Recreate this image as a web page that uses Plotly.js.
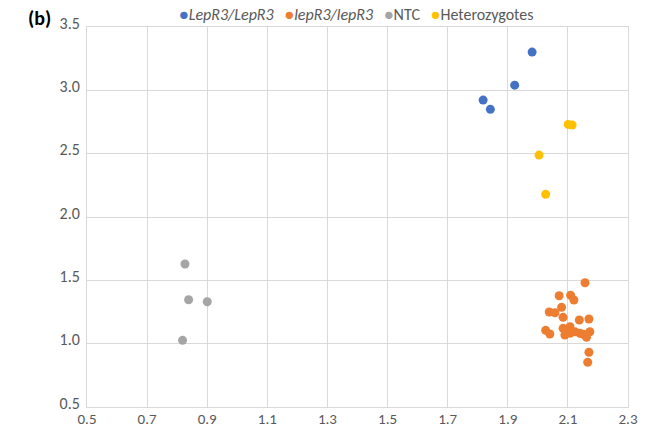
<!DOCTYPE html>
<html>
<head>
<meta charset="utf-8">
<script src="https://cdn.plot.ly/plotly-3.0.1.min.js"></script>
<style>html,body{margin:0;padding:0;background:#fff;}#chart{width:662px;height:429px;}</style>
</head>
<body>
<div id="chart"></div>
<script>
var seriesNames = ["LepR3/LepR3", "lepR3/lepR3", "NTC", "Heterozygotes"];
var seriesItalic = [true, true, false, false];
var seriesColors = ["#4472C4", "#ED7D31", "#A5A5A5", "#FFC000"];

var lepLepX = [1.981, 1.923, 1.818, 1.842];
var lepLepY = [3.302, 3.041, 2.923, 2.850];

var lepSmallX = [2.157, 2.071, 2.109, 2.120, 2.079, 2.038, 2.057, 2.084, 2.138, 2.170, 2.026, 2.040, 2.084, 2.107, 2.090, 2.107, 2.123, 2.140, 2.157, 2.162, 2.173, 2.170, 2.166, 2.095, 2.150];
var lepSmallY = [1.481, 1.378, 1.382, 1.345, 1.287, 1.250, 1.244, 1.208, 1.187, 1.195, 1.105, 1.076, 1.121, 1.134, 1.068, 1.082, 1.094, 1.082, 1.068, 1.050, 1.094, 0.932, 0.853, 1.100, 1.075];

var ntcX = [0.826, 0.838, 0.900, 0.818];
var ntcY = [1.629, 1.347, 1.331, 1.026];

var hetX = [2.101, 2.114, 2.004, 2.026];
var hetY = [2.731, 2.726, 2.489, 2.179];

var xTickVals = [0.5, 0.7, 0.9, 1.1, 1.3, 1.5, 1.7, 1.9, 2.1, 2.3];
var yTickVals = [0.5, 1.0, 1.5, 2.0, 2.5, 3.0, 3.5];

var xs = [lepLepX, lepSmallX, ntcX, hetX];
var ys = [lepLepY, lepSmallY, ntcY, hetY];

var FONT = "Carlito, Lato, 'Noto Sans', sans-serif";
var grid = "#d9d9d9";

var traces = seriesNames.map(function (n, i) {
  return {
    type: "scatter", mode: "markers", name: n,
    x: xs[i], y: ys[i],
    marker: {color: seriesColors[i], size: 9},
    showlegend: false, hoverinfo: "x+y"
  };
});

var legendText = seriesNames.map(function (n, i) {
  var label = seriesItalic[i] ? "<i>" + n + "</i>" : n;
  return '<span style="color:' + seriesColors[i] + '">\u25CF</span>' + label;
}).join("\u00a0\u00a0\u00a0");

var layout = {
  width: 662, height: 429,
  margin: {l: 87, r: 34, t: 27, b: 22, pad: 0},
  paper_bgcolor: "#ffffff", plot_bgcolor: "#ffffff",
  font: {family: FONT, size: 16, color: "#595959"},
  xaxis: {
    range: [0.5, 2.3], tickvals: xTickVals, ticktext: xTickVals.map(function (v) { return v.toFixed(1); }),
    showgrid: true, gridcolor: grid, gridwidth: 1,
    showline: true, linecolor: grid, linewidth: 1, mirror: true,
    zeroline: false, ticks: "", automargin: false, ticklabelstandoff: -2,
    tickfont: {family: FONT, size: 15, color: "#595959"}
  },
  yaxis: {
    range: [0.5, 3.5], tickvals: yTickVals, ticktext: yTickVals.map(function (v) { return v.toFixed(1); }),
    showgrid: true, gridcolor: grid, gridwidth: 1,
    showline: true, linecolor: grid, linewidth: 1, mirror: true,
    zeroline: false, ticks: "", automargin: false, ticklabelshift: -4, ticklabelstandoff: 3,
    tickfont: {family: FONT, size: 16, color: "#595959"}
  },
  annotations: [
    {xref: "paper", yref: "paper", x: 0.497, y: 1.0316, xanchor: "center", yanchor: "middle",
     text: legendText, showarrow: false, font: {family: FONT, size: 16, color: "#595959"}},
    {xref: "paper", yref: "paper", x: -0.087, y: 1.0237, xanchor: "center", yanchor: "middle",
     text: "<b>(b)</b>", showarrow: false, font: {family: FONT, size: 20, color: "#000000"}}
  ]
};

Plotly.newPlot("chart", traces, layout, {displayModeBar: false, staticPlot: true});
</script>
</body>
</html>
